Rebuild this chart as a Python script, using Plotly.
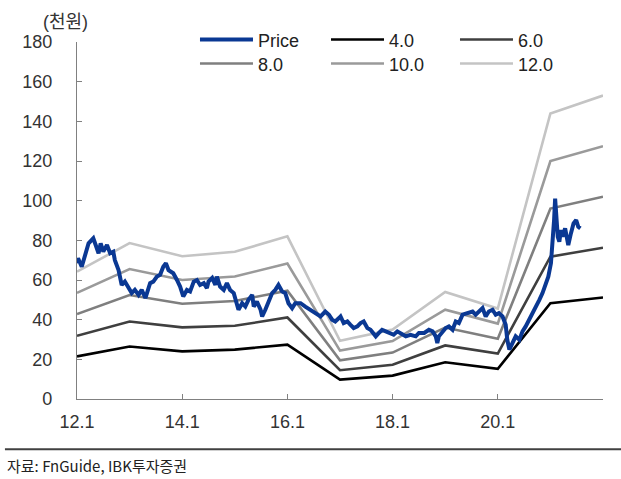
import plotly.graph_objects as go

# ---- data ----
band_years = [2012, 2013, 2014, 2015, 2016, 2017, 2018, 2019, 2020, 2021, 2022]
per_4 = [21.5, 26.5, 24.0, 24.9, 27.4, 9.8, 11.8, 18.5, 15.2, 48.3, 51.2]
per_6 = [31.9, 39.1, 36.1, 36.9, 41.1, 14.5, 17.3, 27.0, 22.9, 71.8, 76.3]
per_8 = [42.8, 52.4, 48.0, 49.4, 54.6, 19.5, 23.4, 36.0, 30.4, 96.0, 102.0]
per_10 = [53.5, 65.5, 60.0, 61.8, 68.3, 24.4, 29.2, 45.0, 38.0, 120.0, 127.5]
per_12 = [64.2, 78.6, 72.0, 74.2, 82.0, 29.3, 35.0, 54.0, 45.6, 144.0, 153.0]

price_t = [
    2012.00, 2012.02, 2012.09, 2012.15, 2012.22, 2012.31, 2012.36, 2012.41, 2012.45, 2012.50,
    2012.57, 2012.63, 2012.69, 2012.72, 2012.79, 2012.82, 2012.85, 2012.91, 2012.98, 2013.04,
    2013.10, 2013.17, 2013.23, 2013.30, 2013.39, 2013.45, 2013.52, 2013.58, 2013.64, 2013.69,
    2013.74, 2013.83, 2013.90, 2013.96, 2014.02, 2014.09, 2014.15, 2014.22, 2014.28, 2014.34,
    2014.41, 2014.47, 2014.50, 2014.57, 2014.63, 2014.66, 2014.72, 2014.79, 2014.85, 2014.91,
    2014.98, 2015.01, 2015.07, 2015.14, 2015.20, 2015.26, 2015.33, 2015.36, 2015.42, 2015.49,
    2015.52, 2015.58, 2015.64, 2015.71, 2015.77, 2015.83, 2015.90, 2015.96, 2016.02, 2016.09,
    2016.15, 2016.25, 2016.34, 2016.44, 2016.53, 2016.63, 2016.72, 2016.79, 2016.85, 2016.91,
    2016.98, 2017.01, 2017.07, 2017.14, 2017.20, 2017.26, 2017.33, 2017.39, 2017.45, 2017.52,
    2017.58, 2017.68, 2017.74, 2017.80, 2017.87, 2017.93, 2018.02, 2018.09, 2018.15, 2018.25,
    2018.34, 2018.44, 2018.50, 2018.60, 2018.69, 2018.76, 2018.82, 2018.85, 2018.88, 2018.95,
    2019.01, 2019.07, 2019.14, 2019.20, 2019.26, 2019.33, 2019.42, 2019.45, 2019.52, 2019.58,
    2019.64, 2019.71, 2019.77, 2019.83, 2019.90, 2019.96, 2020.02, 2020.09, 2020.15, 2020.18,
    2020.22, 2020.28, 2020.34, 2020.41, 2020.47, 2020.53, 2020.60, 2020.66, 2020.72, 2020.79,
    2020.85, 2020.91, 2020.96, 2021.01, 2021.04, 2021.07, 2021.09, 2021.12, 2021.14, 2021.17,
    2021.20, 2021.23, 2021.28, 2021.31, 2021.34, 2021.39, 2021.44, 2021.49, 2021.53, 2021.57,
]
price_v = [
    68.4, 71.0, 66.7, 72.6, 78.5, 81.0, 76.8, 73.5, 78.5, 74.3,
    77.6, 73.5, 74.3, 70.0, 65.0, 60.0, 57.5, 59.2, 55.9, 53.4,
    55.0, 52.5, 55.0, 50.9, 58.4, 59.2, 61.7, 62.6, 66.7, 68.4,
    65.0, 63.4, 60.0, 56.7, 51.7, 55.0, 54.2, 59.2, 60.0, 57.5,
    58.4, 55.9, 59.2, 61.0, 57.5, 61.7, 56.7, 55.0, 58.4, 55.0,
    53.4, 50.0, 45.0, 48.3, 46.6, 50.0, 52.5, 46.6, 49.1, 45.0,
    41.6, 45.0, 49.1, 53.4, 55.0, 57.5, 54.2, 53.4, 48.3, 45.8,
    48.3, 48.3, 46.6, 45.0, 43.3, 41.6, 44.1, 42.5, 40.0, 39.1,
    40.8, 41.6, 38.3, 39.1, 37.4, 35.8, 36.6, 38.3, 39.1, 35.8,
    34.9, 31.6, 33.3, 34.9, 34.1, 33.3, 32.4, 34.1, 33.3, 31.6,
    32.4, 31.6, 33.3, 33.3, 34.9, 34.1, 31.6, 28.2, 31.6, 34.1,
    35.8, 36.6, 34.9, 39.1, 38.3, 42.5, 43.3, 43.3, 44.1, 42.5,
    44.1, 45.8, 41.6, 44.1, 45.0, 42.5, 43.3, 41.6, 37.4, 29.9,
    24.9, 28.2, 31.6, 29.9, 34.1, 36.6, 40.0, 43.3, 45.8, 50.0,
    53.4, 58.4, 61.7, 68.4, 76.8, 90.2, 101.0, 90.2, 81.8, 79.3,
    85.2, 81.8, 86.0, 81.8, 77.6, 83.5, 88.5, 90.2, 86.8, 86.0,
]

x_tickvals = [2012, 2014, 2016, 2018, 2020]
x_ticktext = ["12.1", "14.1", "16.1", "18.1", "20.1"]
y_tickvals = [0, 20, 40, 60, 80, 100, 120, 140, 160, 180]

# name, values, colour, legend id
bands = [
    ("4.0", per_4, "#000000", "legend2"),
    ("6.0", per_6, "#3f3f3f", "legend3"),
    ("8.0", per_8, "#7f7f7f", "legend4"),
    ("10.0", per_10, "#9a9a9a", "legend5"),
    ("12.0", per_12, "#c4c4c4", "legend6"),
]

FONT = "Arial, 'Liberation Sans', 'Noto Sans CJK KR', sans-serif"

fig = go.Figure()
for name, vals, color, leg in bands:
    fig.add_trace(go.Scatter(
        x=band_years, y=vals, name=name, mode="lines",
        line=dict(color=color, width=2.6), legend=leg,
    ))
fig.add_trace(go.Scatter(
    x=price_t, y=price_v, name="Price", mode="lines",
    line=dict(color="#0a3893", width=4), legend="legend",
))


def leg(x, y):
    return dict(
        x=x, y=y, orientation="v", xanchor="left", yanchor="middle",
        bgcolor="rgba(0,0,0,0)", borderwidth=0, itemwidth=53,
        font=dict(family=FONT, size=18, color="#222"),
    )


col_x = [0.2243, 0.4734, 0.7186]
row_y = [1.006, 0.939]

fig.update_layout(
    width=621, height=479,
    margin=dict(l=77, r=18, t=41.5, b=79.5),
    paper_bgcolor="white", plot_bgcolor="white",
    font=dict(family=FONT, size=18, color="#333"),
    showlegend=True,
    legend=leg(col_x[0], row_y[0]),
    legend2=leg(col_x[1], row_y[0]),
    legend3=leg(col_x[2], row_y[0]),
    legend4=leg(col_x[0], row_y[1]),
    legend5=leg(col_x[1], row_y[1]),
    legend6=leg(col_x[2], row_y[1]),
    xaxis=dict(
        range=[2012, 2022], showgrid=False, zeroline=False,
        showline=True, linecolor="#808080", linewidth=1.3,
        tickmode="array", tickvals=x_tickvals, ticktext=x_ticktext,
        ticks="inside", ticklen=5, tickcolor="#808080",
        ticklabelstandoff=6,
        tickfont=dict(family=FONT, size=18, color="#333"),
    ),
    yaxis=dict(
        range=[0, 180], showgrid=False, zeroline=False,
        showline=True, linecolor="#808080", linewidth=1.3,
        tickmode="array", tickvals=y_tickvals,
        ticks="inside", ticklen=5, tickcolor="#808080",
        ticklabelstandoff=20,
        tickfont=dict(family=FONT, size=18, color="#333"),
    ),
    annotations=[
        dict(text="(천원)", xref="paper", yref="paper", x=-0.0228, y=1.057,
             xanchor="center", yanchor="middle", showarrow=False,
             font=dict(family=FONT, size=18, color="#333")),
        dict(text="자료: FnGuide, IBK투자증권", xref="paper", yref="paper",
             x=-0.137, y=-0.186, xanchor="left", yanchor="middle", showarrow=False,
             font=dict(family="'Noto Sans CJK KR', serif", size=15, color="#222")),
    ],
    shapes=[
        dict(type="line", xref="paper", yref="paper", x0=-0.137, x1=1.04,
             y0=-0.141, y1=-0.141, line=dict(color="#404040", width=2)),
    ],
)

fig.write_html("out.html")
